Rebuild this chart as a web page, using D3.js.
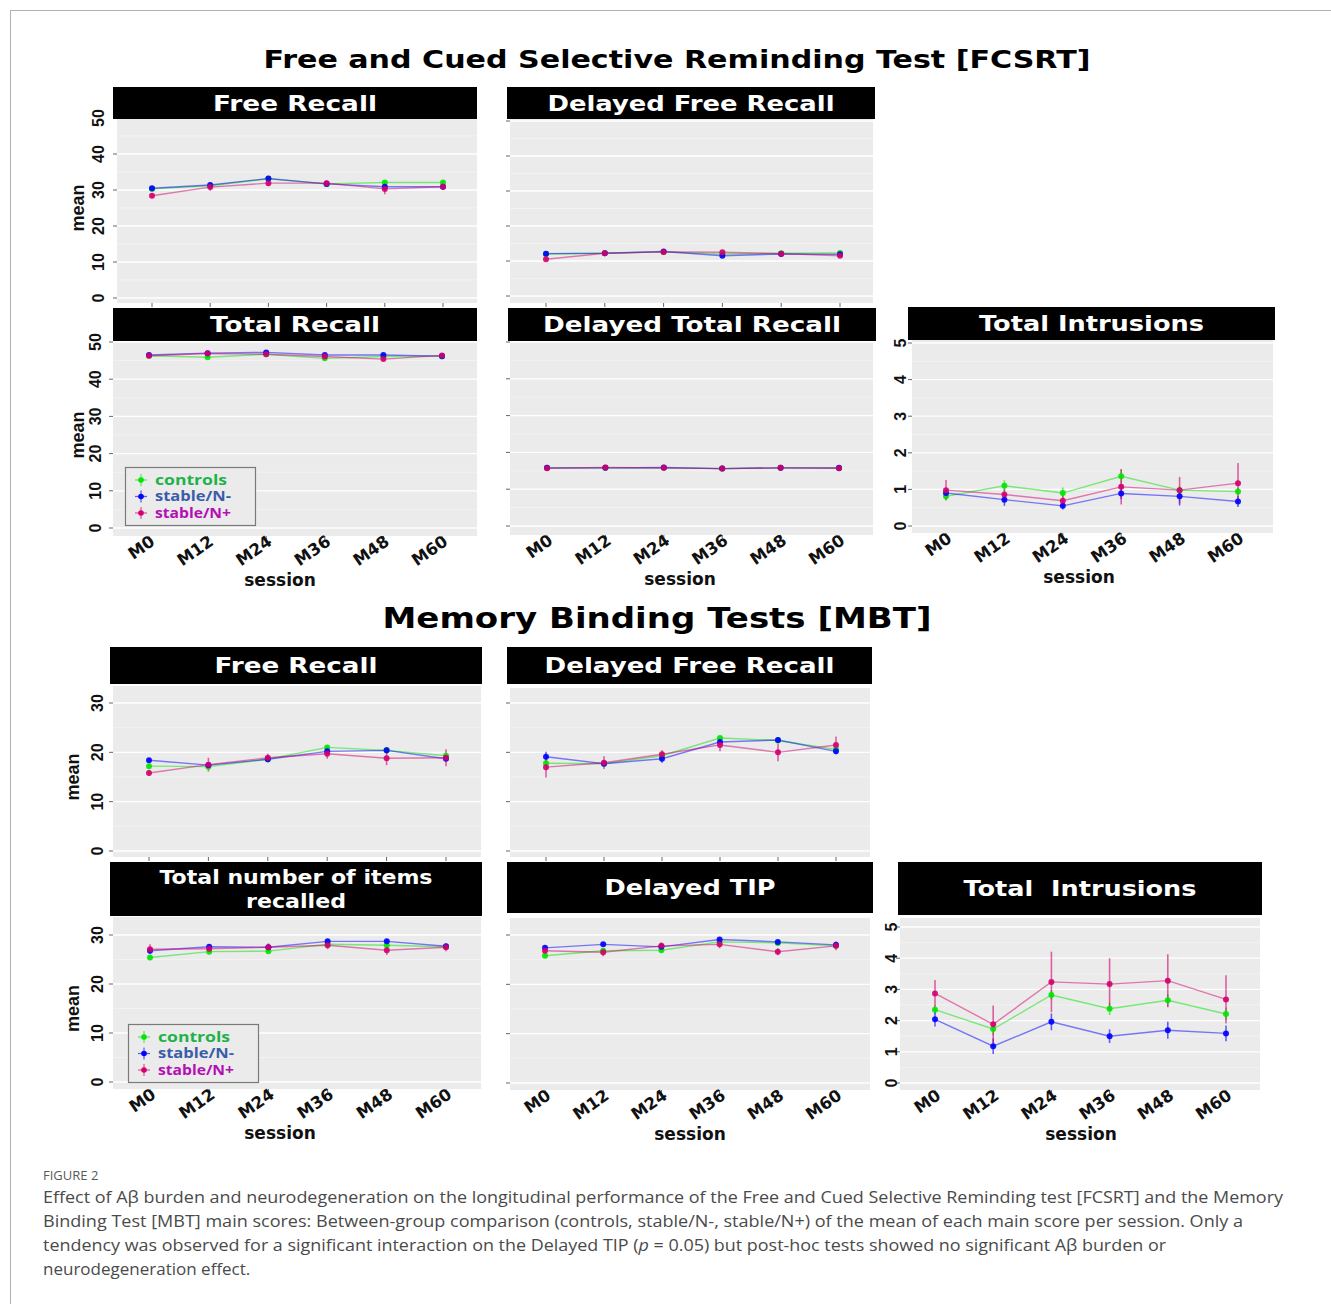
<!DOCTYPE html>
<html><head><meta charset="utf-8">
<script src="https://cdn.jsdelivr.net/npm/d3@7"></script>
<style>body{margin:0;background:#fff} svg{display:block}</style>
</head><body>
<svg id="chart" width="1331" height="1304"></svg>
<script>
// ---------------- DATA ----------------
const sessions = ["M0", "M12", "M24", "M36", "M48", "M60"];
const groups = ["controls", "stable/N-", "stable/N+"];
const ticks50 = [0, 10, 20, 30, 40, 50];
const ticks30 = [0, 10, 20, 30];
const ticks5 = [0, 1, 2, 3, 4, 5];

// FCSRT - Free Recall
const fcsrtFR_controls = [30.3, 31.2, 33.1, 31.7, 32.1, 32.1];
const fcsrtFR_stableNminus = [30.5, 31.4, 33.2, 31.7, 30.9, 30.9];
const fcsrtFR_stableNplus = [28.4, 30.8, 31.9, 31.9, 30.3, 30.9];
const fcsrtFR_err_controls = [0.5, 0.5, 0.5, 0.5, 0.5, 0.5];
const fcsrtFR_err_stableNminus = [0.5, 0.5, 0.6, 0.5, 0.6, 0.5];
const fcsrtFR_err_stableNplus = [0.7, 1.0, 0.8, 0.8, 1.5, 0.8];

// FCSRT - Delayed Free Recall
const fcsrtDFR_controls = [12.0, 12.2, 12.6, 12.0, 12.2, 12.3];
const fcsrtDFR_stableNminus = [12.1, 12.2, 12.7, 11.5, 12.0, 11.9];
const fcsrtDFR_stableNplus = [10.5, 12.2, 12.6, 12.5, 12.1, 11.5];
const fcsrtDFR_err_controls = [0.3, 0.3, 0.3, 0.3, 0.3, 0.3];
const fcsrtDFR_err_stableNminus = [0.3, 0.3, 0.3, 0.3, 0.3, 0.3];
const fcsrtDFR_err_stableNplus = [0.4, 0.4, 0.4, 0.4, 0.4, 0.4];

// FCSRT - Total Recall
const fcsrtTR_controls = [46.3, 45.9, 46.7, 45.6, 46.1, 46.2];
const fcsrtTR_stableNminus = [46.5, 47.0, 47.2, 46.5, 46.5, 46.2];
const fcsrtTR_stableNplus = [46.3, 46.9, 46.7, 46.1, 45.4, 46.4];
const fcsrtTR_err_controls = [0.3, 0.3, 0.3, 0.3, 0.3, 0.3];
const fcsrtTR_err_stableNminus = [0.3, 0.3, 0.3, 0.3, 0.3, 0.3];
const fcsrtTR_err_stableNplus = [0.4, 0.4, 0.4, 0.4, 0.4, 0.4];

// FCSRT - Delayed Total Recall
const fcsrtDTR_controls = [15.8, 15.8, 15.8, 15.6, 15.8, 15.7];
const fcsrtDTR_stableNminus = [15.8, 15.8, 15.9, 15.6, 15.8, 15.8];
const fcsrtDTR_stableNplus = [15.7, 15.9, 15.8, 15.6, 15.8, 15.7];
const fcsrtDTR_err_controls = [0.1, 0.1, 0.1, 0.1, 0.1, 0.1];
const fcsrtDTR_err_stableNminus = [0.1, 0.1, 0.1, 0.1, 0.1, 0.1];
const fcsrtDTR_err_stableNplus = [0.1, 0.1, 0.1, 0.1, 0.1, 0.1];

// FCSRT - Total Intrusions
const fcsrtTI_controls = [0.81, 1.10, 0.90, 1.36, 0.98, 0.94];
const fcsrtTI_stableNminus = [0.90, 0.72, 0.55, 0.89, 0.81, 0.67];
const fcsrtTI_stableNplus = [0.98, 0.86, 0.69, 1.07, 0.98, 1.17];
const fcsrtTI_err_controls = [0.10, 0.15, 0.15, 0.20, 0.10, 0.10];
const fcsrtTI_err_stableNminus = [0.10, 0.17, 0.10, 0.15, 0.25, 0.15];
const fcsrtTI_err_stableNplus = [0.28, 0.15, 0.15, 0.48, 0.36, 0.55];

// MBT - Free Recall
const mbtFR_controls = [17.2, 17.1, 18.6, 21.0, 20.4, 19.3];
const mbtFR_stableNminus = [18.4, 17.4, 18.6, 20.2, 20.4, 18.7];
const mbtFR_stableNplus = [15.8, 17.5, 18.9, 19.7, 18.8, 18.9];
const mbtFR_err_controls = [0.4, 0.4, 0.4, 0.4, 0.4, 0.4];
const mbtFR_err_stableNminus = [0.4, 0.4, 0.6, 0.5, 0.7, 0.5];
const mbtFR_err_stableNplus = [0.6, 1.4, 0.8, 1.0, 1.4, 1.7];

// MBT - Delayed Free Recall
const mbtDFR_controls = [17.8, 17.7, 19.3, 22.9, 22.4, 20.6];
const mbtDFR_stableNminus = [19.1, 17.7, 18.7, 22.1, 22.5, 20.2];
const mbtDFR_stableNplus = [17.0, 17.9, 19.6, 21.5, 20.0, 21.5];
const mbtDFR_err_controls = [0.4, 0.4, 0.4, 0.4, 0.4, 0.4];
const mbtDFR_err_stableNminus = [1.0, 0.4, 0.8, 0.5, 0.6, 0.6];
const mbtDFR_err_stableNplus = [2.1, 1.3, 0.8, 1.3, 1.8, 1.7];

// MBT - Total number of items recalled
const mbtTIR_controls = [25.4, 26.6, 26.7, 28.1, 27.9, 27.6];
const mbtTIR_stableNminus = [26.8, 27.6, 27.5, 28.7, 28.7, 27.7];
const mbtTIR_stableNplus = [27.1, 27.2, 27.5, 27.9, 26.9, 27.5];
const mbtTIR_err_controls = [0.3, 0.3, 0.3, 0.3, 0.3, 0.3];
const mbtTIR_err_stableNminus = [0.4, 0.4, 0.4, 0.4, 0.4, 0.4];
const mbtTIR_err_stableNplus = [1.0, 0.5, 0.8, 0.8, 1.0, 0.8];

// MBT - Delayed TIP
const mbtDTIP_controls = [25.8, 26.8, 26.9, 28.6, 28.4, 27.8];
const mbtDTIP_stableNminus = [27.4, 28.1, 27.6, 29.1, 28.6, 28.0];
const mbtDTIP_stableNplus = [26.8, 26.5, 27.8, 28.1, 26.6, 27.8];
const mbtDTIP_err_controls = [0.3, 0.3, 0.3, 0.3, 0.3, 0.3];
const mbtDTIP_err_stableNminus = [0.3, 0.3, 0.3, 0.3, 0.3, 0.3];
const mbtDTIP_err_stableNplus = [0.6, 0.8, 0.7, 0.8, 0.7, 0.9];

// MBT - Total Intrusions
const mbtTI_controls = [2.35, 1.73, 2.82, 2.38, 2.65, 2.21];
const mbtTI_stableNminus = [2.04, 1.18, 1.96, 1.50, 1.69, 1.59];
const mbtTI_stableNplus = [2.87, 1.88, 3.24, 3.17, 3.28, 2.68];
const mbtTI_err_controls = [0.15, 0.20, 0.15, 0.20, 0.20, 0.20];
const mbtTI_err_stableNminus = [0.23, 0.25, 0.27, 0.22, 0.27, 0.25];
const mbtTI_err_stableNplus = [0.43, 0.60, 0.97, 0.83, 0.85, 0.77];

const captionLines = [
  "Effect of A\u03b2 burden and neurodegeneration on the longitudinal performance of the Free and Cued Selective Reminding test [FCSRT] and the Memory",
  "Binding Test [MBT] main scores: Between-group comparison (controls, stable/N-, stable/N+) of the mean of each main score per session. Only a",
  "tendency was observed for a significant interaction on the Delayed TIP (|p| = 0.05) but post-hoc tests showed no significant A\u03b2 burden or",
  "neurodegeneration effect."
];

// ---------------- STYLE ----------------
const lineColors = {"controls": "#00e600", "stable/N-": "#0000ff", "stable/N+": "#d4006e"};
const legendTextColors = {"controls": "#1fb14a", "stable/N-": "#3b5ca8", "stable/N+": "#b40fb4"};
const BOLD = "'DejaVu Sans', sans-serif";
const ARIAL = "'Liberation Sans', Arial, sans-serif";

const svg = d3.select("#chart");

// figure frame
svg.append("rect").attr("x", 10.5).attr("y", 10.5).attr("width", 1340).attr("height", 1320)
  .attr("fill", "none").attr("stroke", "#b0b0b0").attr("stroke-width", 1);

// section titles
svg.append("text").attr("x", 677).attr("y", 68).attr("text-anchor", "middle")
  .attr("font-family", BOLD).attr("font-weight", "bold").attr("font-size", 25)
  .attr("textLength", 827).attr("lengthAdjust", "spacingAndGlyphs")
  .text("Free and Cued Selective Reminding Test [FCSRT]");
svg.append("text").attr("x", 657).attr("y", 628).attr("text-anchor", "middle")
  .attr("font-family", BOLD).attr("font-weight", "bold").attr("font-size", 29)
  .attr("textLength", 549).attr("lengthAdjust", "spacingAndGlyphs")
  .text("Memory Binding Tests [MBT]");

// ---------------- PANELS ----------------
const panels = [
  {title: ["Free Recall"], tl: [164], strip: [113, 87, 364, 32], plot: [117, 119, 360, 184],
   yDom: [0, 50], yRange: [298, 118], ticks: ticks50, xRange: [152, 443], yLabX: 98, meanX: 78,
   series: [fcsrtFR_controls, fcsrtFR_stableNminus, fcsrtFR_stableNplus],
   errs: [fcsrtFR_err_controls, fcsrtFR_err_stableNminus, fcsrtFR_err_stableNplus]},
  {title: ["Delayed Free Recall"], tl: [287], strip: [507, 87, 368, 32], plot: [510, 119, 363, 184],
   yDom: [0, 50], yRange: [296, 121], ticks: ticks50, xRange: [546, 840],
   series: [fcsrtDFR_controls, fcsrtDFR_stableNminus, fcsrtDFR_stableNplus],
   errs: [fcsrtDFR_err_controls, fcsrtDFR_err_stableNminus, fcsrtDFR_err_stableNplus]},
  {title: ["Total Recall"], tl: [170], strip: [113, 308, 364, 33], plot: [113, 342, 364, 194],
   yDom: [0, 50], yRange: [528, 342], ticks: ticks50, xRange: [149, 442], yLabX: 95, meanX: 78,
   xLabels: true, sessionX: 280, legend: [125, 467],
   series: [fcsrtTR_controls, fcsrtTR_stableNminus, fcsrtTR_stableNplus],
   errs: [fcsrtTR_err_controls, fcsrtTR_err_stableNminus, fcsrtTR_err_stableNplus]},
  {title: ["Delayed Total Recall"], tl: [298], strip: [508, 308, 368, 33], plot: [510, 342, 363, 193],
   yDom: [0, 50], yRange: [526, 342], ticks: ticks50, xRange: [547, 839],
   xLabels: true, sessionX: 680,
   series: [fcsrtDTR_controls, fcsrtDTR_stableNminus, fcsrtDTR_stableNplus],
   errs: [fcsrtDTR_err_controls, fcsrtDTR_err_stableNminus, fcsrtDTR_err_stableNplus]},
  {title: ["Total Intrusions"], tl: [225], strip: [908, 307, 367, 33], plot: [912, 340, 361, 193],
   yDom: [0, 5], yRange: [526, 343], ticks: ticks5, xRange: [946, 1238], yLabX: 900,
   xLabels: true, sessionX: 1079,
   series: [fcsrtTI_controls, fcsrtTI_stableNminus, fcsrtTI_stableNplus],
   errs: [fcsrtTI_err_controls, fcsrtTI_err_stableNminus, fcsrtTI_err_stableNplus]},
  {title: ["Free Recall"], tl: [163], strip: [110, 647, 372, 37], plot: [113, 686, 368, 171],
   yDom: [0, 30], yRange: [851, 703], ticks: ticks30, xRange: [149, 446], yLabX: 97, meanX: 73,
   series: [mbtFR_controls, mbtFR_stableNminus, mbtFR_stableNplus],
   errs: [mbtFR_err_controls, mbtFR_err_stableNminus, mbtFR_err_stableNplus]},
  {title: ["Delayed Free Recall"], tl: [290], strip: [507, 647, 365, 37], plot: [510, 688, 360, 169],
   yDom: [0, 30], yRange: [851, 703], ticks: ticks30, xRange: [546, 836],
   series: [mbtDFR_controls, mbtDFR_stableNminus, mbtDFR_stableNplus],
   errs: [mbtDFR_err_controls, mbtDFR_err_stableNminus, mbtDFR_err_stableNplus]},
  {title: ["Total number of items", "recalled"], tl: [273, 100], strip: [110, 862, 372, 54], plot: [113, 917, 368, 172],
   yDom: [0, 30], yRange: [1082, 935], ticks: ticks30, xRange: [150, 446], yLabX: 97, meanX: 73,
   xLabels: true, sessionX: 280, legend: [128, 1024],
   series: [mbtTIR_controls, mbtTIR_stableNminus, mbtTIR_stableNplus],
   errs: [mbtTIR_err_controls, mbtTIR_err_stableNminus, mbtTIR_err_stableNplus]},
  {title: ["Delayed TIP"], tl: [171], strip: [507, 862, 366, 51], plot: [510, 918, 360, 172],
   yDom: [0, 30], yRange: [1083, 935], ticks: ticks30, xRange: [545, 836],
   xLabels: true, sessionX: 690,
   series: [mbtDTIP_controls, mbtDTIP_stableNminus, mbtDTIP_stableNplus],
   errs: [mbtDTIP_err_controls, mbtDTIP_err_stableNminus, mbtDTIP_err_stableNplus]},
  {title: ["Total  Intrusions"], tl: [233], strip: [898, 862, 364, 53], plot: [900, 918, 360, 172],
   yDom: [0, 5], yRange: [1083, 927], ticks: ticks5, xRange: [935, 1226], yLabX: 891,
   xLabels: true, sessionX: 1081,
   series: [mbtTI_controls, mbtTI_stableNminus, mbtTI_stableNplus],
   errs: [mbtTI_err_controls, mbtTI_err_stableNminus, mbtTI_err_stableNplus]}
];

panels.forEach(p => {
  const g = svg.append("g");
  const [px, py, pw, ph] = p.plot;
  const x = d3.scalePoint().domain(sessions).range(p.xRange);
  const y = d3.scaleLinear().domain(p.yDom).range(p.yRange);
  const step = p.ticks[1] - p.ticks[0];

  // panel background
  g.append("rect").attr("x", px).attr("y", py).attr("width", pw).attr("height", ph).attr("fill", "#ebebeb");
  // minor grid
  const minors = p.ticks.slice(0, -1).map(t => t + step / 2);
  g.selectAll(".mg").data(minors).join("line")
    .attr("x1", px).attr("x2", px + pw).attr("y1", d => y(d)).attr("y2", d => y(d))
    .attr("stroke", "#f4f4f4").attr("stroke-width", 0.8);
  // major grid
  g.selectAll(".Mg").data(p.ticks).join("line")
    .attr("x1", px).attr("x2", px + pw).attr("y1", d => y(d)).attr("y2", d => y(d))
    .attr("stroke", "#ffffff").attr("stroke-width", 1.3);
  // y axis ticks
  g.selectAll(".yt").data(p.ticks).join("line")
    .attr("x1", px - 4).attr("x2", px).attr("y1", d => y(d)).attr("y2", d => y(d))
    .attr("stroke", "#666").attr("stroke-width", 1);
  // x axis ticks
  g.selectAll(".xt").data(sessions).join("line")
    .attr("x1", d => x(d)).attr("x2", d => x(d)).attr("y1", py + ph).attr("y2", py + ph + 4)
    .attr("stroke", "#666").attr("stroke-width", 1);

  // y tick labels
  if (p.yLabX !== undefined) {
    g.selectAll(".yl").data(p.ticks).join("text")
      .attr("transform", d => `translate(${p.yLabX},${y(d)}) rotate(-90)`)
      .attr("text-anchor", "middle").attr("dy", "0.36em")
      .attr("font-family", ARIAL).attr("font-weight", "bold").attr("font-size", 16).attr("fill", "#111")
      .text(d => d);
  }
  if (p.meanX !== undefined) {
    const cy = (p.yRange[0] + p.yRange[1]) / 2;
    g.append("text").attr("transform", `translate(${p.meanX},${cy}) rotate(-90)`)
      .attr("text-anchor", "middle").attr("dy", "0.36em")
      .attr("font-family", ARIAL).attr("font-weight", "bold").attr("font-size", 18).attr("fill", "#111")
      .text("mean");
  }
  // x labels
  if (p.xLabels) {
    g.selectAll(".xl").data(sessions).join("text")
      .attr("transform", d => `translate(${x(d) + 7},${py + ph + 8}) rotate(-35)`)
      .attr("text-anchor", "end")
      .attr("font-family", BOLD).attr("font-weight", "bold").attr("font-size", 16.5).attr("fill", "#111")
      .text(d => d);
    g.append("text").attr("x", p.sessionX).attr("y", py + ph + 50).attr("text-anchor", "middle")
      .attr("font-family", BOLD).attr("font-weight", "bold").attr("font-size", 17).attr("fill", "#111")
      .text("session");
  }

  // strip
  const [sx, sy, sw, sh] = p.strip;
  g.append("rect").attr("x", sx).attr("y", sy).attr("width", sw).attr("height", sh).attr("fill", "#000");
  const nLines = p.title.length;
  p.title.forEach((t, i) => {
    const ty = nLines === 1 ? sy + sh / 2 : sy + sh / 2 + (i - 0.5) * 24;
    g.append("text").attr("x", sx + sw / 2).attr("y", ty).attr("dy", "0.36em")
      .attr("text-anchor", "middle").attr("fill", "#fff")
      .attr("font-family", BOLD).attr("font-weight", "bold").attr("font-size", nLines === 1 ? 22 : 19)
      .attr("textLength", p.tl[i]).attr("lengthAdjust", "spacingAndGlyphs")
      .style("white-space", "pre")
      .text(t);
  });

  // series
  groups.forEach((grp, gi) => {
    const vals = p.series[gi];
    const errs = p.errs[gi];
    const col = lineColors[grp];
    const line = d3.line().x((d, i) => x(sessions[i])).y(d => y(d));
    g.append("path").attr("d", line(vals)).attr("fill", "none")
      .attr("stroke", col).attr("stroke-opacity", 0.5).attr("stroke-width", 1.4);
    g.selectAll(".eb" + gi).data(vals).join("line")
      .attr("x1", (d, i) => x(sessions[i])).attr("x2", (d, i) => x(sessions[i]))
      .attr("y1", (d, i) => y(d - errs[i])).attr("y2", (d, i) => y(d + errs[i]))
      .attr("stroke", col).attr("stroke-opacity", 0.6).attr("stroke-width", 1.6);
  });
  groups.forEach((grp, gi) => {
    const vals = p.series[gi];
    g.selectAll(".pt" + gi).data(vals).join("circle")
      .attr("cx", (d, i) => x(sessions[i])).attr("cy", d => y(d)).attr("r", 3)
      .attr("fill", lineColors[grp]).attr("fill-opacity", 0.9);
  });

  // legend
  if (p.legend) {
    const [lx, ly] = p.legend;
    const lg = g.append("g");
    lg.append("rect").attr("x", lx + 0.5).attr("y", ly + 0.5).attr("width", 130).attr("height", 58)
      .attr("fill", "#ebebeb").attr("stroke", "#7a7a7a").attr("stroke-width", 1.2);
    groups.forEach((grp, gi) => {
      const cy = ly + 13 + gi * 16.5;
      const cx = lx + 16;
      lg.append("line").attr("x1", cx - 6).attr("x2", cx + 6).attr("y1", cy).attr("y2", cy)
        .attr("stroke", lineColors[grp]).attr("stroke-opacity", 0.6).attr("stroke-width", 1.3);
      lg.append("line").attr("x1", cx).attr("x2", cx).attr("y1", cy - 6).attr("y2", cy + 6)
        .attr("stroke", lineColors[grp]).attr("stroke-opacity", 0.6).attr("stroke-width", 1.3);
      lg.append("circle").attr("cx", cx).attr("cy", cy).attr("r", 2.8).attr("fill", lineColors[grp]);
      lg.append("text").attr("x", lx + 30).attr("y", cy).attr("dy", "0.34em")
        .attr("font-family", "'Open Sans', sans-serif").attr("font-weight", "bold").attr("font-size", 13.5)
        .attr("textLength", grp === "controls" ? 72 : 76).attr("lengthAdjust", "spacingAndGlyphs")
        .attr("fill", legendTextColors[grp]).text(grp);
    });
  }
});

// ---------------- CAPTION ----------------
svg.append("text").attr("x", 43).attr("y", 1180)
  .attr("font-family", "'Open Sans', sans-serif").attr("font-size", 13).attr("fill", "#5a5a5a")
  .text("FIGURE 2");
const capWidths = [1240, 1200, 1123, null];
captionLines.forEach((ln, i) => {
  const t = svg.append("text").attr("x", 43).attr("y", 1203 + i * 24)
    .attr("font-family", "'Open Sans', sans-serif").attr("font-size", 17).attr("fill", "#4a4a4a");
  if (capWidths[i]) t.attr("textLength", capWidths[i]).attr("lengthAdjust", "spacingAndGlyphs");
  ln.split("|").forEach((part, k) => {
    t.append("tspan").attr("font-style", k % 2 === 1 ? "italic" : "normal").text(part);
  });
});
</script>
</body></html>
